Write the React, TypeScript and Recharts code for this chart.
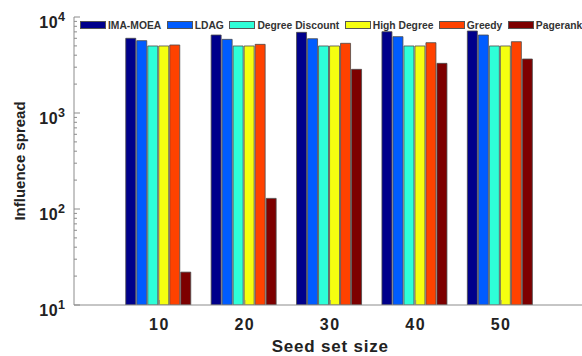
import { Bar, BarChart, Legend, XAxis, YAxis } from "recharts";

const categories = ["10", "20", "30", "40", "50"];
const imaMoea = [6000, 6490, 6920, 7030, 7150];
const ldag = [5670, 5850, 5940, 6240, 6490];
const degreeDiscount = [4990, 4990, 4990, 4990, 4990];
const highDegree = [4990, 4990, 4990, 4990, 4990];
const greedy = [5110, 5190, 5320, 5400, 5530];
const pagerank = [22, 129, 2850, 3290, 3650];

const majorTicks = [10, 100, 1000, 10000];
const minorSteps = [2, 3, 4, 5, 6, 7, 8, 9];

const series = [
  { key: "imaMoea", name: "IMA-MOEA", values: imaMoea, color: "#00008B" },
  { key: "ldag", name: "LDAG", values: ldag, color: "#005CFF" },
  { key: "degreeDiscount", name: "Degree Discount", values: degreeDiscount, color: "#2EFFD8" },
  { key: "highDegree", name: "High Degree", values: highDegree, color: "#F5FF10" },
  { key: "greedy", name: "Greedy", values: greedy, color: "#FF4200" },
  { key: "pagerank", name: "Pagerank", values: pagerank, color: "#7D0000" },
];

const data = categories.map((category, i) => {
  const row: Record<string, string | number> = { category };
  series.forEach((s) => (row[s.key] = s.values[i]));
  return row;
});

const yTicks = [
  ...majorTicks,
  ...majorTicks.slice(0, -1).flatMap((m) => minorSteps.map((k) => k * m)),
].sort((a, b) => a - b);

const AXIS = "#8c8c8c";
const TEXT = "#222";
const FONT = "'Liberation Sans', Arial, sans-serif";

function LeftTick({ x, y, payload }: any) {
  const v = payload.value;
  const major = majorTicks.includes(v);
  return (
    <g>
      <line x1={x} x2={x + (major ? 6 : 3)} y1={y} y2={y} stroke={AXIS} />
      {major && (
        <text x={x - 9} y={y + 10.5} textAnchor="end" fill={TEXT} fontFamily={FONT} fontWeight="bold">
          <tspan fontSize={16} letterSpacing={0.5}>10</tspan>
          <tspan fontSize={12.5} dy={-7}>
            {Math.round(Math.log10(v))}
          </tspan>
        </text>
      )}
    </g>
  );
}

function RightTick({ x, y, payload }: any) {
  const major = majorTicks.includes(payload.value);
  return <line x1={x} x2={x - (major ? 6 : 3)} y1={y} y2={y} stroke={AXIS} />;
}

function BottomTick({ x, y, payload }: any) {
  return (
    <g>
      <line x1={x} x2={x} y1={y} y2={y - 5} stroke={AXIS} />
      <text
        x={x}
        y={y + 25}
        textAnchor="middle"
        fill={TEXT}
        fontFamily={FONT}
        fontWeight="bold"
        fontSize={16}
        letterSpacing={1.5}
      >
        {payload.value}
      </text>
    </g>
  );
}

function TopTick({ x, y }: any) {
  return <line x1={x} x2={x} y1={y} y2={y + 5} stroke={AXIS} />;
}

function renderLegend() {
  return (
    <div style={{ display: "flex", alignItems: "center", height: 12, fontFamily: FONT }}>
      {series.map((s) => (
        <div key={s.key} style={{ display: "flex", alignItems: "center", marginRight: 5.5 }}>
          <span
            style={{
              display: "inline-block",
              width: 24,
              height: 6,
              background: s.color,
              border: "1px solid #555",
              marginRight: 2,
            }}
          />
          <span style={{ fontSize: 10.3, fontWeight: "bold", color: "#333", whiteSpace: "nowrap" }}>{s.name}</span>
        </div>
      ))}
    </div>
  );
}

export default function App() {
  return (
    <div style={{ position: "absolute", left: 0, top: 0, width: 582, height: 356, overflow: "hidden", background: "#fff" }}>
      <BarChart
        width={600}
        height={356}
        data={data}
        margin={{ top: 17, right: 13.5, bottom: 0, left: 0 }}
        barCategoryGap={9}
        barGap={1}
      >
        <XAxis
          dataKey="category"
          height={51}
          padding={{ left: 42.75, right: 42.75 }}
          axisLine={{ stroke: AXIS }}
          tickLine={false}
          tickSize={0}
          tickMargin={0}
          interval={0}
          tick={<BottomTick />}
          label={{
            value: "Seed set size",
            position: "insideBottom",
            offset: 4,
            style: { fontFamily: FONT, fontWeight: "bold", fontSize: 17, fill: TEXT, letterSpacing: 0.8 },
          }}
        />
        <XAxis
          xAxisId="top"
          orientation="top"
          dataKey="category"
          height={0}
          padding={{ left: 42.75, right: 42.75 }}
          axisLine={{ stroke: AXIS }}
          tickLine={false}
          tickSize={0}
          tickMargin={0}
          interval={0}
          tick={<TopTick />}
        />
        <YAxis
          scale="log"
          domain={[10, 10000]}
          allowDataOverflow
          ticks={yTicks}
          interval={0}
          width={74}
          axisLine={{ stroke: AXIS }}
          tickLine={false}
          tickSize={0}
          tickMargin={0}
          tick={<LeftTick />}
          label={{
            value: "Influence spread",
            angle: -90,
            position: "insideLeft",
            offset: 20,
            style: { textAnchor: "middle", fontFamily: FONT, fontWeight: "bold", fontSize: 15, fill: TEXT },
          }}
        />
        <YAxis
          yAxisId="right"
          orientation="right"
          scale="log"
          domain={[10, 10000]}
          allowDataOverflow
          ticks={yTicks}
          interval={0}
          width={0}
          axisLine={{ stroke: AXIS }}
          tickLine={false}
          tickSize={0}
          tickMargin={0}
          tick={<RightTick />}
        />
        <Legend
          content={renderLegend}
          layout="horizontal"
          verticalAlign="middle"
          align="center"
          wrapperStyle={{ left: 80, top: 19, width: 540 }}
        />
        {series.map((s) => (
          <Bar
            key={s.key}
            dataKey={s.key}
            name={s.name}
            fill={s.color}
            stroke="#4a4a4a"
            strokeWidth={0.8}
            isAnimationActive={false}
          />
        ))}
      </BarChart>
    </div>
  );
}
